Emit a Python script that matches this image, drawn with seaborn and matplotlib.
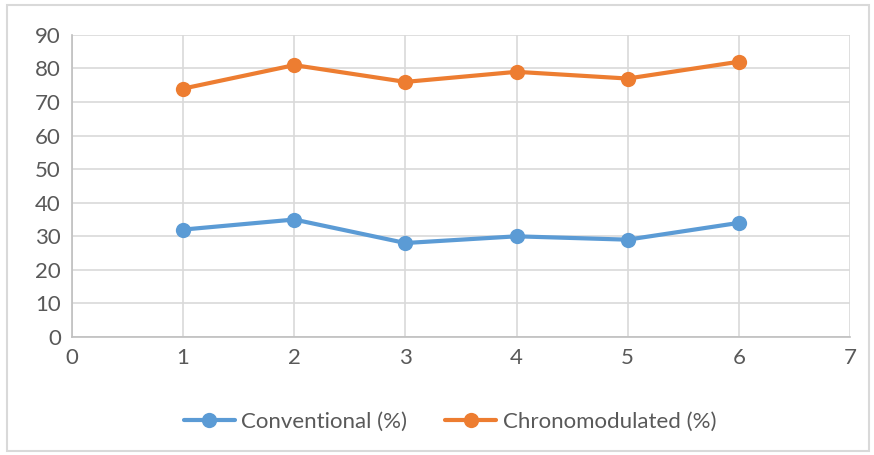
import pandas as pd
import matplotlib
matplotlib.use("Agg")
from matplotlib import pyplot as plt
from matplotlib.patches import Rectangle
import seaborn as sns

# data
x_vals = [1, 2, 3, 4, 5, 6]
conventional = [32, 35, 28, 30, 29, 34]
chrono = [74, 81, 76, 79, 77, 82]
series_names = ['Conventional (%)', 'Chronomodulated (%)']
colors = ['#5B9BD5', '#ED7D31']

df = pd.DataFrame({
    'x': x_vals * 2,
    'value': conventional + chrono,
    'series': [series_names[0]] * len(x_vals) + [series_names[1]] * len(x_vals),
})

sns.set_style('white')
plt.rcParams['font.family'] = ['Lato', 'DejaVu Sans']

fig = plt.figure(figsize=(8.74, 4.55), dpi=100)
ax = fig.add_axes([0.0824, 0.2593, 0.89, 0.664])

sns.lineplot(data=df, x='x', y='value', hue='series', palette=colors,
             marker='o', markersize=11, markeredgewidth=0, linewidth=3,
             ax=ax)

ax.set_xlim(0, 7)
ax.set_ylim(0, 90)
ax.set_xticks(range(0, 8))
ax.set_yticks(range(0, 91, 10))
ax.grid(True, color='#D9D9D9', linewidth=1.2)
ax.set_axisbelow(True)
ax.set_xlabel('')
ax.set_ylabel('')
ax.tick_params(axis='both', labelsize=16, labelcolor='#595959', length=0, pad=8)
for side in ['top', 'right']:
    ax.spines[side].set_visible(False)
for side in ['left', 'bottom']:
    ax.spines[side].set_color('#BFBFBF')
    ax.spines[side].set_linewidth(1.2)

ax.legend(loc='center', bbox_to_anchor=(0.515, 0.073), bbox_transform=fig.transFigure,
          ncol=2, frameon=False, fontsize=16, labelcolor='#595959',
          handlelength=2.3, columnspacing=1.7, handletextpad=0.3)

# light frame round the whole chart
fig.patches.append(Rectangle((0.008, 0.008), 0.986, 0.982, transform=fig.transFigure,
                             fill=False, edgecolor='#D9D9D9', linewidth=1.5))

fig.savefig('out.png', dpi=100)
